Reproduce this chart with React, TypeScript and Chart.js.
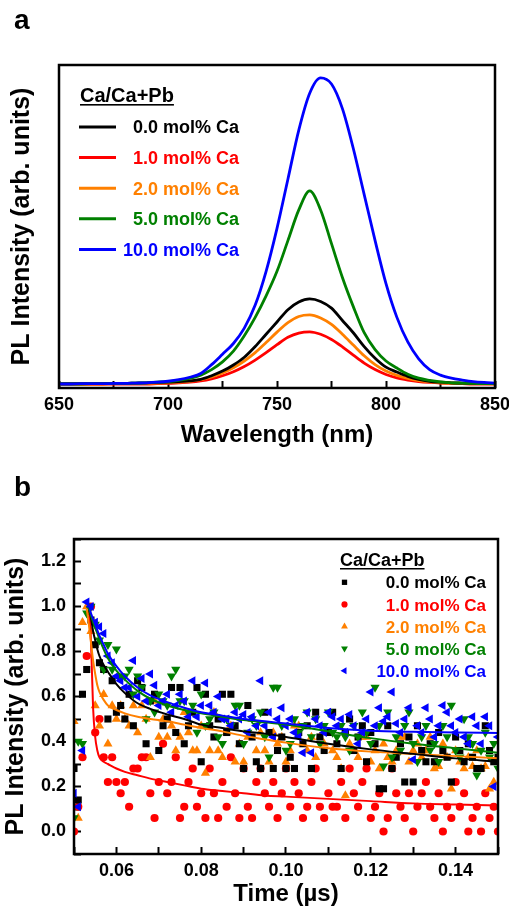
import React, { useEffect, useRef } from 'react';
import { Chart, registerables } from 'chart.js';
import { drawPoint } from 'chart.js/helpers';

Chart.register(...registerables);

const FONT = '"Liberation Sans", Arial, Helvetica, sans-serif';

// ---------- shared series info ----------
const seriesLabels = ['0.0 mol% Ca', '1.0 mol% Ca', '2.0 mol% Ca', '5.0 mol% Ca', '10.0 mol% Ca'];
const seriesColors = ['#000000', '#ff0000', '#ff8000', '#008000', '#0000ff'];
const legendTitle = 'Ca/Ca+Pb';

// ---------- panel a : PL spectra ----------
const wavelengths = [650, 655, 660, 665, 670, 675, 680, 685, 690, 695, 700, 705, 710, 715, 720, 725, 730, 735, 740, 745, 750, 755, 760, 765, 770, 775, 780, 785, 790, 795, 800, 805, 810, 815, 820, 825, 830, 835, 840, 845, 850];
const pl00 = [0.004, 0.004, 0.004, 0.004, 0.005, 0.005, 0.005, 0.006, 0.007, 0.008, 0.009, 0.011, 0.013, 0.018, 0.03, 0.045, 0.065, 0.09, 0.125, 0.165, 0.205, 0.245, 0.27, 0.28, 0.272, 0.25, 0.21, 0.17, 0.125, 0.087, 0.058, 0.042, 0.028, 0.018, 0.012, 0.009, 0.007, 0.006, 0.005, 0.004, 0.004];
const pl10 = [0.002, 0.002, 0.002, 0.002, 0.002, 0.003, 0.003, 0.003, 0.003, 0.004, 0.005, 0.007, 0.009, 0.013, 0.02, 0.03, 0.043, 0.06, 0.081, 0.105, 0.131, 0.155, 0.169, 0.173, 0.165, 0.148, 0.124, 0.097, 0.071, 0.05, 0.034, 0.023, 0.016, 0.011, 0.008, 0.006, 0.005, 0.004, 0.003, 0.003, 0.003];
const pl20 = [0.003, 0.003, 0.003, 0.003, 0.003, 0.004, 0.004, 0.004, 0.005, 0.006, 0.007, 0.009, 0.012, 0.017, 0.026, 0.039, 0.056, 0.078, 0.105, 0.138, 0.172, 0.203, 0.223, 0.228, 0.218, 0.197, 0.165, 0.13, 0.095, 0.066, 0.045, 0.031, 0.021, 0.014, 0.01, 0.007, 0.006, 0.005, 0.004, 0.004, 0.003];
const pl50 = [0.003, 0.003, 0.003, 0.004, 0.004, 0.005, 0.005, 0.006, 0.007, 0.009, 0.011, 0.015, 0.021, 0.032, 0.05, 0.075, 0.11, 0.16, 0.22, 0.29, 0.37, 0.47, 0.57, 0.632, 0.57, 0.46, 0.35, 0.255, 0.17, 0.115, 0.078, 0.055, 0.035, 0.022, 0.015, 0.01, 0.007, 0.006, 0.005, 0.004, 0.004];
const pl100 = [0.003, 0.003, 0.004, 0.004, 0.004, 0.005, 0.005, 0.006, 0.007, 0.009, 0.012, 0.017, 0.025, 0.037, 0.066, 0.1, 0.135, 0.185, 0.26, 0.37, 0.51, 0.67, 0.83, 0.95, 1.0, 0.98, 0.9, 0.77, 0.62, 0.47, 0.33, 0.22, 0.14, 0.085, 0.05, 0.032, 0.022, 0.016, 0.011, 0.008, 0.006];
const xTicksA = [650, 700, 750, 800, 850];

// ---------- panel b : PL decay ----------
const times = [
  0.050, 0.051, 0.052, 0.053, 0.054, 0.055, 0.056, 0.057, 0.058, 0.059,
  0.060, 0.061, 0.062, 0.063, 0.064, 0.065, 0.066, 0.067, 0.068, 0.069,
  0.070, 0.071, 0.072, 0.073, 0.074, 0.075, 0.076, 0.077, 0.078, 0.079,
  0.080, 0.081, 0.082, 0.083, 0.084, 0.085, 0.086, 0.087, 0.088, 0.089,
  0.090, 0.091, 0.092, 0.093, 0.094, 0.095, 0.096, 0.097, 0.098, 0.099,
  0.100, 0.101, 0.102, 0.103, 0.104, 0.105, 0.106, 0.107, 0.108, 0.109,
  0.110, 0.111, 0.112, 0.113, 0.114, 0.115, 0.116, 0.117, 0.118, 0.119,
  0.120, 0.121, 0.122, 0.123, 0.124, 0.125, 0.126, 0.127, 0.128, 0.129,
  0.130, 0.131, 0.132, 0.133, 0.134, 0.135, 0.136, 0.137, 0.138, 0.139,
  0.140, 0.141, 0.142, 0.143, 0.144, 0.145, 0.146, 0.147, 0.148, 0.149,
  0.150];
const decay00 = [
  0.28, 0.14, 0.61, 0.72, 0.94, 0.83, 0.75, 0.72, 0.50, 0.67,
  0.53, 0.56, 0.50, 0.61, 0.47, 0.67, 0.64, 0.39, 0.58, 0.61,
  0.36, 0.47, 0.50, 0.64, 0.44, 0.64, 0.39, 0.47, 0.53, 0.64,
  0.31, 0.61, 0.47, 0.42, 0.50, 0.61, 0.44, 0.61, 0.47, 0.39,
  0.28, 0.56, 0.42, 0.31, 0.28, 0.53, 0.44, 0.28, 0.36, 0.42,
  0.28, 0.33, 0.28, 0.44, 0.39, 0.47, 0.28, 0.53, 0.42, 0.36,
  0.44, 0.53, 0.39, 0.28, 0.44, 0.50, 0.36, 0.42, 0.47, 0.31,
  0.44, 0.39, 0.19, 0.19, 0.47, 0.28, 0.33, 0.39, 0.22, 0.42,
  0.22, 0.47, 0.36, 0.31, 0.39, 0.31, 0.44, 0.36, 0.33, 0.22,
  0.42, 0.36, 0.31, 0.39, 0.33, 0.28, 0.28, 0.47, 0.36, 0.31,
  0.33];
const decay10 = [
  0.00, 0.11, 0.33, 0.78, 1.00, 0.44, 0.50, 0.33, 0.22, 0.33,
  0.22, 0.17, 0.22, 0.11, 0.28, 0.28, 0.33, 0.33, 0.17, 0.06,
  0.22, 0.39, 0.17, 0.22, 0.33, 0.06, 0.11, 0.22, 0.28, 0.11,
  0.17, 0.06, 0.28, 0.17, 0.06, 0.22, 0.11, 0.33, 0.17, 0.06,
  0.28, 0.11, 0.06, 0.22, 0.28, 0.17, 0.11, 0.22, 0.06, 0.17,
  0.28, 0.11, 0.22, 0.17, 0.06, 0.11, 0.22, 0.28, 0.11, 0.06,
  0.17, 0.11, 0.11, 0.22, 0.06, 0.28, 0.17, 0.11, 0.22, 0.28,
  0.06, 0.11, 0.17, 0.00, 0.06, 0.28, 0.17, 0.11, 0.06, 0.17,
  0.00, 0.11, 0.17, 0.22, 0.11, 0.06, 0.17, 0.00, 0.11, 0.06,
  0.22, 0.11, 0.17, 0.00, 0.06, 0.11, 0.00, 0.17, 0.06, 0.11,
  0.00];
const decay20 = [
  0.49, 0.06, 0.93, 1.00, 0.89, 0.56, 0.47, 0.61, 0.39, 0.56,
  0.50, 0.56, 0.50, 0.47, 0.56, 0.44, 0.56, 0.50, 0.33, 0.58,
  0.42, 0.50, 0.42, 0.47, 0.36, 0.42, 0.53, 0.44, 0.36, 0.36,
  0.47, 0.26, 0.36, 0.53, 0.36, 0.33, 0.44, 0.47, 0.31, 0.39,
  0.31, 0.42, 0.50, 0.36, 0.44, 0.36, 0.31, 0.44, 0.39, 0.42,
  0.31, 0.36, 0.47, 0.47, 0.39, 0.36, 0.42, 0.33, 0.42, 0.39,
  0.44, 0.36, 0.33, 0.28, 0.16, 0.39, 0.36, 0.33, 0.42, 0.42,
  0.31, 0.36, 0.28, 0.39, 0.33, 0.31, 0.36, 0.42, 0.42, 0.31,
  0.36, 0.39, 0.33, 0.36, 0.42, 0.28, 0.29, 0.39, 0.33, 0.19,
  0.36, 0.31, 0.28, 0.33, 0.29, 0.36, 0.28, 0.29, 0.19, 0.22,
  0.33];
const decay50 = [
  0.06, 0.40, 0.39, 0.97, 1.00, 0.92, 0.85, 0.72, 0.83, 0.72,
  0.81, 0.69, 0.69, 0.72, 0.61, 0.69, 0.64, 0.50, 0.58, 0.53,
  0.61, 0.58, 0.56, 0.69, 0.72, 0.58, 0.58, 0.53, 0.56, 0.44,
  0.61, 0.47, 0.50, 0.53, 0.42, 0.39, 0.50, 0.47, 0.56, 0.56,
  0.39, 0.44, 0.50, 0.47, 0.53, 0.42, 0.33, 0.64, 0.64, 0.47,
  0.36, 0.39, 0.50, 0.44, 0.47, 0.53, 0.42, 0.50, 0.39, 0.47,
  0.53, 0.44, 0.42, 0.47, 0.42, 0.36, 0.47, 0.42, 0.53, 0.44,
  0.39, 0.64, 0.47, 0.29, 0.53, 0.33, 0.42, 0.36, 0.47, 0.53,
  0.39, 0.31, 0.42, 0.47, 0.36, 0.39, 0.31, 0.47, 0.42, 0.56,
  0.36, 0.33, 0.50, 0.42, 0.39, 0.25, 0.36, 0.44, 0.33, 0.39,
  0.28];
const decay100 = [
  0.17, 0.11, 0.36, 1.02, 1.00, 0.93, 0.91, 0.88, 0.78, 0.75,
  0.69, 0.67, 0.64, 0.64, 0.76, 0.60, 0.68, 0.58, 0.70, 0.65,
  0.56, 0.58, 0.61, 0.53, 0.56, 0.61, 0.58, 0.51, 0.67, 0.51,
  0.56, 0.66, 0.56, 0.53, 0.60, 0.50, 0.50, 0.47, 0.53, 0.50,
  0.52, 0.44, 0.51, 0.47, 0.67, 0.47, 0.53, 0.42, 0.50, 0.55,
  0.47, 0.50, 0.44, 0.42, 0.35, 0.53, 0.35, 0.50, 0.47, 0.44,
  0.53, 0.51, 0.47, 0.50, 0.44, 0.52, 0.47, 0.39, 0.44, 0.50,
  0.62, 0.47, 0.55, 0.49, 0.51, 0.62, 0.48, 0.44, 0.50, 0.55,
  0.32, 0.47, 0.44, 0.55, 0.50, 0.42, 0.47, 0.56, 0.53, 0.47,
  0.44, 0.50, 0.42, 0.39, 0.51, 0.47, 0.39, 0.51, 0.47, 0.20,
  0.42];
const fitTimes = [0.053, 0.0535, 0.054, 0.0545, 0.055, 0.0555, 0.056, 0.057, 0.058, 0.06, 0.062, 0.065, 0.068, 0.072, 0.076, 0.08, 0.085, 0.09, 0.095, 0.1, 0.11, 0.12, 0.13, 0.14, 0.15];
const fit00 = [null, 0.99, 0.95, 0.89, 0.85, 0.81, 0.78, 0.74, 0.71, 0.655, 0.615, 0.57, 0.545, 0.52, 0.5, 0.475, 0.46, 0.445, 0.435, 0.42, 0.39, 0.365, 0.345, 0.325, 0.31];
const fit10 = [null, 1.0, 0.85, 0.55, 0.42, 0.36, 0.33, 0.31, 0.3, 0.28, 0.265, 0.25, 0.235, 0.22, 0.205, 0.19, 0.18, 0.17, 0.16, 0.155, 0.145, 0.135, 0.125, 0.12, 0.115];
const fit20 = [0.99, 0.92, 0.84, 0.76, 0.7, 0.65, 0.62, 0.585, 0.56, 0.54, 0.525, 0.51, 0.5, 0.49, 0.475, 0.46, 0.445, 0.425, 0.41, 0.395, 0.37, 0.355, 0.345, 0.335, 0.325];
const fit50 = [1.0, 0.99, 0.96, 0.93, 0.905, 0.88, 0.855, 0.81, 0.77, 0.715, 0.675, 0.625, 0.59, 0.56, 0.54, 0.525, 0.51, 0.495, 0.485, 0.475, 0.445, 0.415, 0.39, 0.37, 0.35];
const fit100 = [1.0, 1.0, 0.97, 0.945, 0.92, 0.895, 0.87, 0.83, 0.79, 0.735, 0.69, 0.64, 0.605, 0.575, 0.55, 0.53, 0.515, 0.5, 0.49, 0.48, 0.46, 0.448, 0.443, 0.44, 0.438];
const xTicksB = [0.06, 0.08, 0.10, 0.12, 0.14];
const yTicksB = [0.0, 0.2, 0.4, 0.6, 0.8, 1.0, 1.2];
const markerStyles = ['rect', 'circle', 'triangle', 'triangle', 'triangle'];
const markerRotations = [0, 0, 0, 180, 270];
const markerRadii = [5, 4.1, 5.3, 5.3, 5.3];

// ---------- frame + legend plugin ----------
const frameLegend = {
  id: 'frameLegend',
  afterDraw(chart: any, _args: any, o: any) {
    const { ctx, chartArea: ca } = chart;
    ctx.save();
    ctx.strokeStyle = '#000';
    ctx.lineWidth = o.frameWidth;
    ctx.strokeRect(ca.left, ca.top, ca.right - ca.left, ca.bottom - ca.top);

    ctx.fillStyle = '#000';
    ctx.font = `bold ${o.titleSize}px ${FONT}`;
    ctx.textAlign = 'left';
    ctx.textBaseline = 'alphabetic';
    ctx.fillText(o.title, o.titleX, o.titleY);
    const tw = ctx.measureText(o.title).width;
    ctx.fillRect(o.titleX, o.titleY + o.underlineGap, tw, o.underlineWidth);

    ctx.font = `bold ${o.itemSize}px ${FONT}`;
    ctx.textAlign = 'right';
    const idx: number[] = o.indices;
    idx.forEach((di, k) => {
      const ds = chart.data.datasets[di];
      const cy = o.firstY + k * o.rowH;
      const color = ds.borderColor || ds.backgroundColor;
      if (o.marker === 'line') {
        ctx.strokeStyle = color;
        ctx.lineWidth = o.markLineWidth;
        ctx.beginPath();
        ctx.moveTo(o.markX1, cy);
        ctx.lineTo(o.markX2, cy);
        ctx.stroke();
      } else {
        ctx.fillStyle = ds.pointBackgroundColor;
        ctx.strokeStyle = ds.pointBackgroundColor;
        drawPoint(ctx, {
          pointStyle: ds.pointStyle,
          rotation: ds.pointRotation || 0,
          radius: ds.pointRadius * o.markScale,
          borderWidth: 0,
        }, o.markX, cy);
      }
      ctx.fillStyle = ds.pointBackgroundColor || color;
      ctx.fillText(ds.label, o.textRight, cy + o.itemSize * 0.36);
    });
    ctx.restore();
  },
};

const tickFont = { family: FONT, size: 18, weight: 'bold' as const };
const titleFont = (size: number) => ({ family: FONT, size, weight: 'bold' as const });

function buildA(): any {
  const curves = [pl00, pl10, pl20, pl50, pl100];
  const orders = [2, 4, 3, 1, 0];
  return {
    type: 'line',
    data: {
      datasets: curves.map((arr, i) => ({
        label: seriesLabels[i],
        data: wavelengths.map((w, j) => ({ x: w, y: arr[j] })),
        borderColor: seriesColors[i],
        backgroundColor: seriesColors[i],
        borderWidth: 2.8,
        pointRadius: 0,
        cubicInterpolationMode: 'monotone',
        fill: false,
        order: orders[i],
      })),
    },
    options: {
      responsive: false,
      animation: false,
      devicePixelRatio: 1,
      layout: { padding: { top: 65, right: 14, bottom: 5, left: 0 } },
      plugins: {
        legend: { display: false },
        tooltip: { enabled: false },
        frameLegend: {
          frameWidth: 2.5,
          title: legendTitle, titleSize: 20, titleX: 80, titleY: 101.5,
          underlineGap: 2.5, underlineWidth: 1.6,
          itemSize: 18, indices: [0, 1, 2, 3, 4],
          firstY: 127, rowH: 30.6,
          marker: 'line', markX1: 79, markX2: 116, markLineWidth: 3,
          textRight: 239,
        },
      },
      scales: {
        x: {
          type: 'linear', position: 'bottom', min: 650, max: 850,
          afterFit: (s: any) => { s.height = 62; s.paddingLeft = 0; s.paddingRight = 0; },
          border: { display: false },
          grid: { display: true, drawOnChartArea: false, drawTicks: true, tickLength: -7, tickWidth: 2, color: '#000', tickColor: '#000' },
          ticks: {
            stepSize: 25, autoSkip: false, maxRotation: 0, minRotation: 0, padding: 13,
            color: '#000', font: tickFont,
            callback: (v: any) => (xTicksA.includes(Number(v)) ? String(v) : ''),
          },
          title: { display: true, text: 'Wavelength (nm)', color: '#000', font: titleFont(24), padding: { top: 0, bottom: 0 } },
        },
        y: {
          type: 'linear', position: 'left', min: -0.01, max: 1.042,
          afterFit: (s: any) => { s.width = 59; s.paddingTop = 0; s.paddingBottom = 0; },
          border: { display: false },
          grid: { display: false },
          ticks: { display: false },
          title: { display: true, text: 'PL Intensity (arb. units)', color: '#000', font: titleFont(25), padding: { top: 7, bottom: 0 } },
        },
      },
    },
    plugins: [frameLegend],
  };
}

function buildB(): any {
  const decays = [decay00, decay10, decay20, decay50, decay100];
  const fits = [fit00, fit10, fit20, fit50, fit100];
  const scatterOrders = [2, 4, 3, 1, 0];
  const scatter = decays.map((arr, i) => ({
    type: 'scatter',
    label: seriesLabels[i],
    data: times.map((t, j) => ({ x: t, y: arr[j] })),
    showLine: false,
    pointStyle: markerStyles[i],
    pointRotation: markerRotations[i],
    pointRadius: markerRadii[i],
    pointBorderWidth: 0,
    pointBackgroundColor: seriesColors[i],
    backgroundColor: seriesColors[i],
    borderColor: seriesColors[i],
    order: scatterOrders[i],
  }));
  const lines = fits.map((arr, i) => ({
    type: 'line',
    label: seriesLabels[i] + ' fit',
    data: fitTimes.map((t, j) => ({ x: t, y: arr[j] })),
    borderColor: seriesColors[i],
    backgroundColor: seriesColors[i],
    borderWidth: 2,
    pointRadius: 0,
    showLine: true,
    spanGaps: false,
    cubicInterpolationMode: 'monotone',
    fill: false,
    order: -10 + scatterOrders[i],
  }));
  const matchTick = (list: number[], v: number, digits: number) => {
    const m = list.find((t) => Math.abs(t - v) < 1e-6);
    return m !== undefined ? m.toFixed(digits) : '';
  };
  return {
    type: 'scatter',
    data: { datasets: [...scatter, ...lines] },
    options: {
      responsive: false,
      animation: false,
      devicePixelRatio: 1,
      layout: { padding: { top: 84, right: 11, bottom: 0, left: 0 } },
      plugins: {
        legend: { display: false },
        tooltip: { enabled: false },
        frameLegend: {
          frameWidth: 2.5,
          title: legendTitle, titleSize: 18, titleX: 340, titleY: 111,
          underlineGap: 2, underlineWidth: 1.5,
          itemSize: 17, indices: [0, 1, 2, 3, 4],
          firstY: 127.3, rowH: 22.1,
          marker: 'point', markX: 344.5, markScale: 0.75,
          textRight: 486,
        },
      },
      scales: {
        x: {
          type: 'linear', position: 'bottom', min: 0.05, max: 0.15,
          afterFit: (s: any) => { s.height = 55; s.paddingLeft = 0; s.paddingRight = 0; },
          border: { display: false },
          grid: { display: true, drawOnChartArea: false, drawTicks: true, tickLength: -7, tickWidth: 2, color: '#000', tickColor: '#000' },
          ticks: {
            stepSize: 0.01, autoSkip: false, maxRotation: 0, minRotation: 0, padding: 13,
            color: '#000', font: tickFont,
            callback: (v: any) => matchTick(xTicksB, Number(v), 2),
          },
          title: { display: true, text: 'Time (\u00b5s)', color: '#000', font: titleFont(24), padding: { top: 0, bottom: 0 } },
        },
        y: {
          type: 'linear', position: 'left', min: -0.1, max: 1.3,
          afterFit: (s: any) => { s.width = 74; s.paddingTop = 0; s.paddingBottom = 0; },
          border: { display: false },
          grid: { display: true, drawOnChartArea: false, drawTicks: true, tickLength: -7, tickWidth: 2, color: '#000', tickColor: '#000' },
          ticks: {
            stepSize: 0.1, autoSkip: false, padding: 15,
            color: '#000', font: tickFont,
            callback: (v: any) => matchTick(yTicksB, Number(v), 1),
          },
          title: { display: true, text: 'PL Intensity (arb. units)', color: '#000', font: titleFont(25), padding: { top: 1, bottom: 0 } },
        },
      },
    },
    plugins: [frameLegend],
  };
}

export default function App() {
  const refA = useRef<HTMLCanvasElement>(null);
  const refB = useRef<HTMLCanvasElement>(null);

  useEffect(() => {
    const a = new Chart(refA.current as HTMLCanvasElement, buildA());
    const b = new Chart(refB.current as HTMLCanvasElement, buildB());
    return () => {
      a.destroy();
      b.destroy();
    };
  }, []);

  const panelLabel: React.CSSProperties = {
    position: 'absolute',
    font: `bold 28px ${FONT}`,
    lineHeight: '28px',
    color: '#000',
  };

  return (
    <div style={{ position: 'absolute', left: 0, top: 0, width: 509, height: 909, background: '#fff', overflow: 'hidden' }}>
      <canvas ref={refA} width={509} height={455} style={{ position: 'absolute', left: 0, top: 0, width: 509, height: 455 }} />
      <canvas ref={refB} width={509} height={454} style={{ position: 'absolute', left: 0, top: 455, width: 509, height: 454 }} />
      <div style={{ ...panelLabel, left: 14, top: 6 }}>a</div>
      <div style={{ ...panelLabel, left: 14, top: 473 }}>b</div>
    </div>
  );
}
